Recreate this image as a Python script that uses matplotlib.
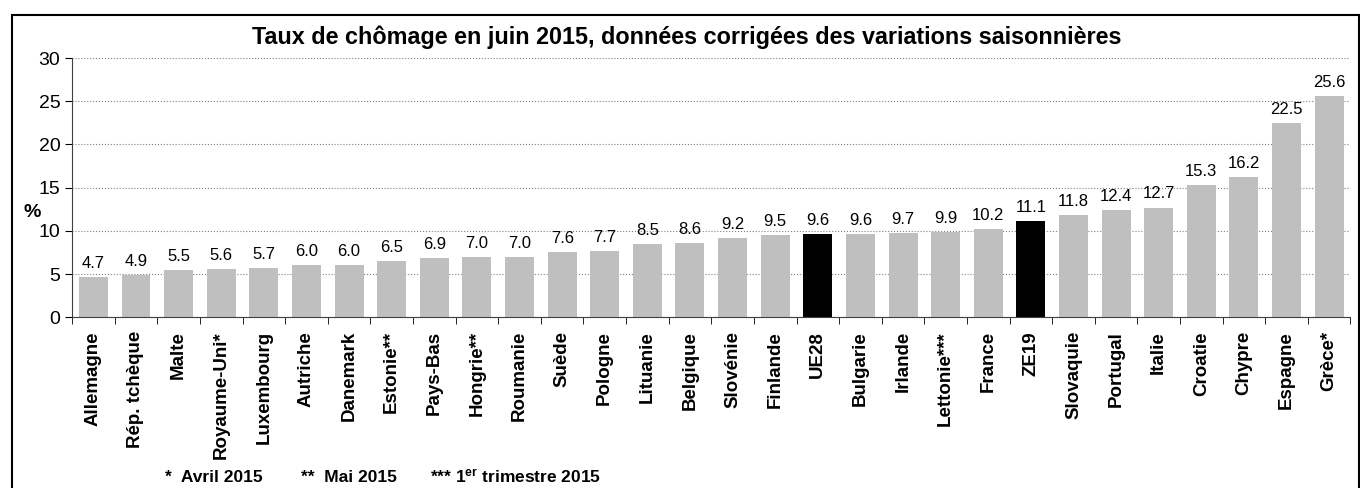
import matplotlib
matplotlib.use("Agg")
import matplotlib.pyplot as plt
from matplotlib.patches import Rectangle
import numpy as np

plt.rcParams['font.family'] = ['Liberation Sans', 'DejaVu Sans']
plt.rcParams['mathtext.fontset'] = 'custom'
plt.rcParams['mathtext.rm'] = 'Liberation Sans:bold'
plt.rcParams['mathtext.bf'] = 'Liberation Sans:bold'
plt.rcParams['mathtext.it'] = 'Liberation Sans:bold'

# data
pays = ['Allemagne', 'Rép. tchèque', 'Malte', 'Royaume-Uni*', 'Luxembourg',
        'Autriche', 'Danemark', 'Estonie**', 'Pays-Bas', 'Hongrie**',
        'Roumanie', 'Suède', 'Pologne', 'Lituanie', 'Belgique', 'Slovénie',
        'Finlande', 'UE28', 'Bulgarie', 'Irlande', 'Lettonie***', 'France',
        'ZE19', 'Slovaquie', 'Portugal', 'Italie', 'Croatie', 'Chypre',
        'Espagne', 'Grèce*']
taux = [4.7, 4.9, 5.5, 5.6, 5.7, 6.0, 6.0, 6.5, 6.9, 7.0, 7.0, 7.6, 7.7, 8.5,
        8.6, 9.2, 9.5, 9.6, 9.6, 9.7, 9.9, 10.2, 11.1, 11.8, 12.4, 12.7, 15.3,
        16.2, 22.5, 25.6]
agregats = ['UE28', 'ZE19']

fig = plt.figure(figsize=(13.6, 4.88), dpi=100)
ax = fig.add_axes([0.053, 0.350, 0.940, 0.531])

x = np.arange(len(pays))
couleurs = ['black' if p in agregats else '#BFBFBF' for p in pays]
ax.bar(x, taux, width=0.68, color=couleurs, zorder=2)
for xi, v in zip(x, taux):
    ax.text(xi, v + 0.7, f'{v:.1f}', ha='center', va='bottom', fontsize=12)

ax.set_xlim(-0.5, len(pays) - 0.5)
ax.set_ylim(0, 30)
ax.set_yticks(range(0, 31, 5))
ax.tick_params(axis='y', labelsize=14, length=5, direction='out')
ax.yaxis.grid(True, linestyle=':', color='#808080', linewidth=0.8, zorder=0)
ax.set_xticks(x)
ax.set_xticklabels(pays, rotation=90, fontsize=13.5, fontweight='bold')
ax.tick_params(axis='x', length=0, pad=10)
ax.set_xticks(np.arange(-0.5, len(pays)), minor=True)
ax.tick_params(axis='x', which='minor', length=5, direction='out')
for s in ['top', 'right']:
    ax.spines[s].set_visible(False)
ax.spines['left'].set_color('#404040')
ax.spines['bottom'].set_color('#404040')

fig.text(0.017, 0.565, '%', fontsize=14, fontweight='bold', ha='left', va='center')
fig.text(0.505, 0.924, 'Taux de chômage en juin 2015, données corrigées des variations saisonnières',
         ha='center', va='center', fontsize=16.8, fontweight='bold')

fig.text(0.121, 0.022, '*  Avril 2015', fontsize=12.5, fontweight='bold', va='center')
fig.text(0.221, 0.022, '**  Mai 2015', fontsize=12.5, fontweight='bold', va='center')
fig.text(0.316, 0.022, '*** 1$^{er}$ trimestre 2015', fontsize=12.5, fontweight='bold', va='center')

fig.patches.append(Rectangle((0.009, -0.05), 0.99, 1.02, transform=fig.transFigure,
                             fill=False, edgecolor='black', linewidth=1.5))

fig.savefig('out.png', dpi=100)
